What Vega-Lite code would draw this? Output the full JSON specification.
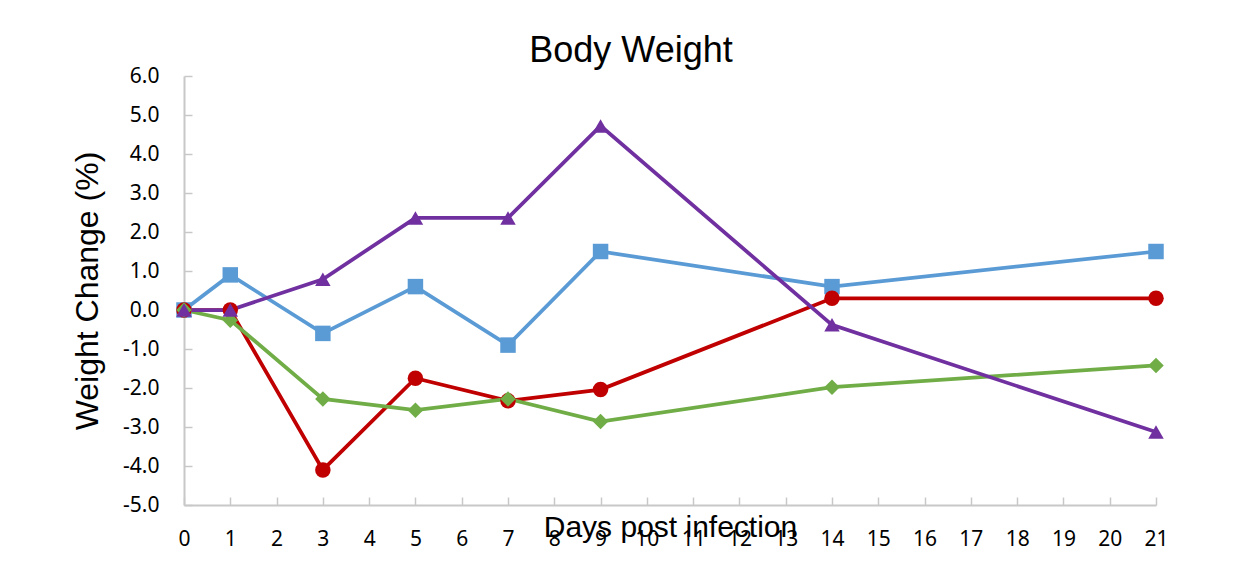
{
  "$schema": "https://vega.github.io/schema/vega-lite/v6.json",
  "width": 972,
  "height": 429,
  "autosize": "none",
  "padding": {"left": 184, "top": 76, "right": 97, "bottom": 83},
  "background": "white",
  "title": {
    "text": "Body Weight",
    "font": "Liberation Sans",
    "fontSize": 36,
    "fontWeight": "normal",
    "color": "#000000",
    "anchor": "middle",
    "dx": -39,
    "dy": 43,
    "baseline": "alphabetic",
    "offset": 10
  },
  "config": {
    "view": {"stroke": null},
    "axis": {
      "grid": false,
      "domainColor": "#c8c8c8",
      "domainWidth": 2,
      "tickColor": "#c8c8c8",
      "tickWidth": 1.5,
      "tickSize": -8,
      "labelFont": "Noto Sans",
      "labelFontSize": 21,
      "labelColor": "#000000",
      "titleFont": "Liberation Sans",
      "titleFontWeight": "normal",
      "titleColor": "#000000"
    }
  },
  "data": {
    "values": [
      {"day": 0, "series": "A", "change": 0.0},
      {"day": 1, "series": "A", "change": 0.9},
      {"day": 3, "series": "A", "change": -0.6},
      {"day": 5, "series": "A", "change": 0.6},
      {"day": 7, "series": "A", "change": -0.9},
      {"day": 9, "series": "A", "change": 1.5},
      {"day": 14, "series": "A", "change": 0.6},
      {"day": 21, "series": "A", "change": 1.5},
      {"day": 0, "series": "B", "change": 0.0},
      {"day": 1, "series": "B", "change": 0.0},
      {"day": 3, "series": "B", "change": -4.1},
      {"day": 5, "series": "B", "change": -1.75},
      {"day": 7, "series": "B", "change": -2.33},
      {"day": 9, "series": "B", "change": -2.04},
      {"day": 14, "series": "B", "change": 0.3},
      {"day": 21, "series": "B", "change": 0.3},
      {"day": 0, "series": "C", "change": 0.0},
      {"day": 1, "series": "C", "change": -0.26},
      {"day": 3, "series": "C", "change": -2.28},
      {"day": 5, "series": "C", "change": -2.57},
      {"day": 7, "series": "C", "change": -2.28},
      {"day": 9, "series": "C", "change": -2.86},
      {"day": 14, "series": "C", "change": -1.98},
      {"day": 21, "series": "C", "change": -1.42},
      {"day": 0, "series": "D", "change": 0.0},
      {"day": 1, "series": "D", "change": 0.0},
      {"day": 3, "series": "D", "change": 0.79},
      {"day": 5, "series": "D", "change": 2.36},
      {"day": 7, "series": "D", "change": 2.36},
      {"day": 9, "series": "D", "change": 4.72},
      {"day": 14, "series": "D", "change": -0.38},
      {"day": 21, "series": "D", "change": -3.13}
    ]
  },
  "encoding": {
    "x": {
      "field": "day",
      "type": "quantitative",
      "scale": {"domain": [0, 21], "nice": false, "zero": false},
      "axis": {
        "values": [0,1,2,3,4,5,6,7,8,9,10,11,12,13,14,15,16,17,18,19,20,21],
        "format": "d",
        "labelFlush": false,
        "labelOverlap": false,
        "labelPadding": 42,
        "labelBaseline": "middle",
        "title": "Days post infection",
        "titleFontSize": 30,
        "titleBaseline": "alphabetic",
        "titleY": 31,
        "titleX": 486,
        "titleAnchor": "middle"
      }
    },
    "y": {
      "field": "change",
      "type": "quantitative",
      "scale": {"domain": [-5, 6], "nice": false, "zero": false},
      "axis": {
        "values": [-5,-4,-3,-2,-1,0,1,2,3,4,5,6],
        "format": ".1f",
        "labelExpr": "replace(datum.label, '\u2212', '-')",
        "labelFlush": false,
        "labelOverlap": false,
        "labelPadding": 33,
        "title": "Weight Change (%)",
        "titleFontSize": 32,
        "titleAngle": -90,
        "titleBaseline": "middle",
        "titleX": -97,
        "titleY": 214.5,
        "titleAnchor": "middle"
      }
    },
    "color": {
      "field": "series",
      "type": "nominal",
      "scale": {"domain": ["A","B","C","D"], "range": ["#5b9bd5","#c00000","#70ad47","#7030a0"]},
      "legend": null
    }
  },
  "layer": [
    {
      "mark": {"type": "line", "strokeWidth": 3.75}
    },
    {
      "mark": {"type": "point", "filled": true, "opacity": 1},
      "encoding": {
        "shape": {
          "field": "series",
          "type": "nominal",
          "scale": {"domain": ["A","B","C","D"], "range": ["square","circle","diamond","triangle-up"]},
          "legend": null
        },
        "size": {
          "field": "series",
          "type": "nominal",
          "scale": {"domain": ["A","B","C","D"], "range": [240, 240, 270, 310]},
          "legend": null
        }
      }
    }
  ]
}
